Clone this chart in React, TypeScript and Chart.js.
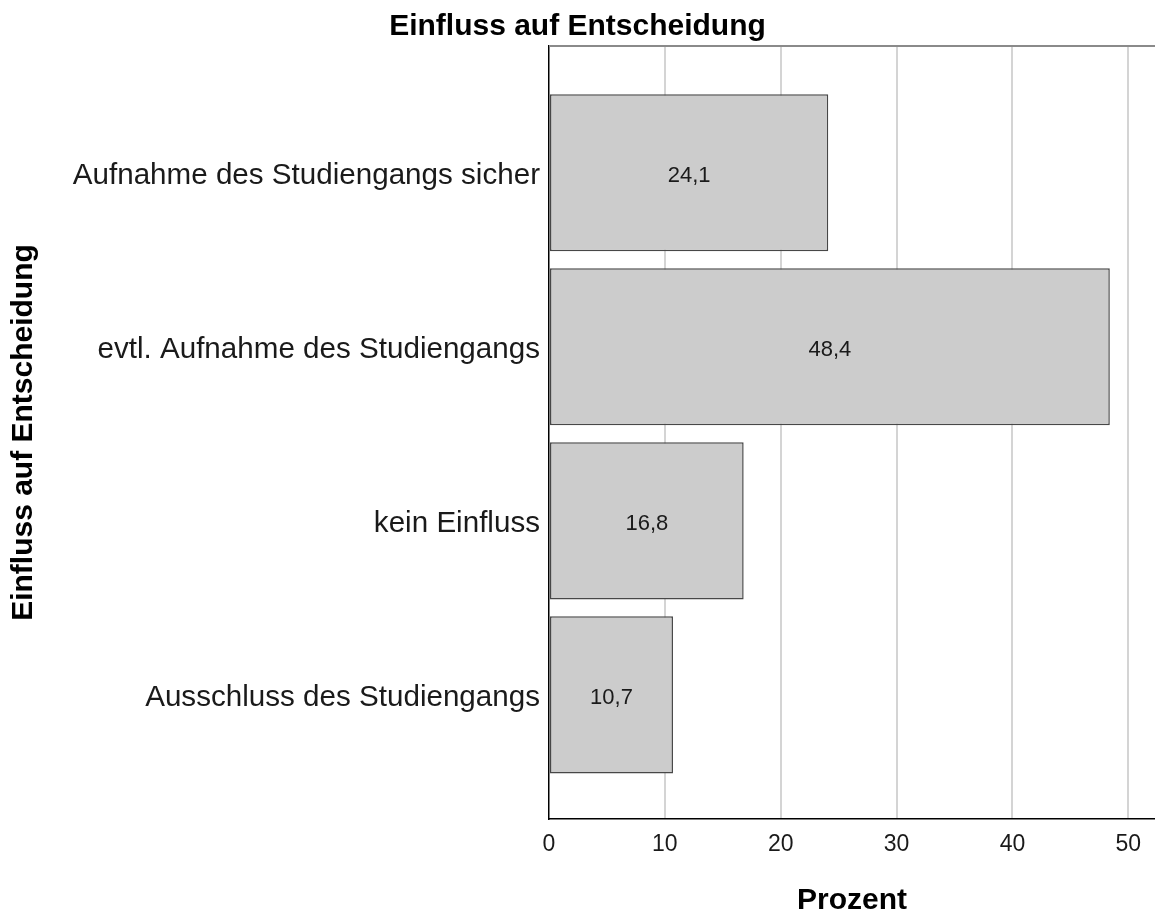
import React, { useEffect, useRef } from 'react';
import { Chart, registerables } from 'chart.js';

Chart.register(...registerables);

const chartTitle = 'Einfluss auf Entscheidung';
const xAxisTitle = 'Prozent';
const yAxisTitle = 'Einfluss auf Entscheidung';
const categories = [
  'Aufnahme des Studiengangs sicher',
  'evtl. Aufnahme des Studiengangs',
  'kein Einfluss',
  'Ausschluss des Studiengangs',
];
const percentValues = [24.1, 48.4, 16.8, 10.7];
const xTickValues = [0, 10, 20, 30, 40, 50];
const xMax = 52.3;
const yMin = -0.728;
const yMax = 3.713;

const FONT = "'Liberation Sans', Arial, Helvetica, sans-serif";

const topFramePlugin = {
  id: 'topFrame',
  beforeDatasetsDraw(chart: any) {
    const { ctx, chartArea } = chart;
    ctx.save();
    ctx.strokeStyle = '#8a8a8a';
    ctx.lineWidth = 2;
    ctx.beginPath();
    ctx.moveTo(chartArea.left, chartArea.top);
    ctx.lineTo(chartArea.right, chartArea.top);
    ctx.stroke();
    ctx.restore();
  },
};

const barLabelPlugin = {
  id: 'barLabels',
  afterDatasetsDraw(chart: any) {
    const { ctx } = chart;
    const meta = chart.getDatasetMeta(0);
    ctx.save();
    ctx.font = `22px ${FONT}`;
    ctx.fillStyle = '#1a1a1a';
    ctx.textAlign = 'center';
    ctx.textBaseline = 'middle';
    meta.data.forEach((bar: any, i: number) => {
      const v = percentValues[i];
      const cx = (bar.base + bar.x) / 2;
      ctx.fillText(v.toFixed(1).replace('.', ','), cx, bar.y + 3);
    });
    ctx.restore();
  },
};

export default function App() {
  const canvasRef = useRef<HTMLCanvasElement | null>(null);

  useEffect(() => {
    document.body.style.margin = '0';
    const canvas = canvasRef.current;
    if (!canvas) return;
    const chart = new Chart(canvas, {
      type: 'bar',
      data: {
        datasets: [
          {
            data: percentValues.map((v, i) => ({ x: v, y: i })),
            backgroundColor: '#cccccc',
            borderColor: '#474747',
            borderWidth: 1.5,
            borderSkipped: false,
            barPercentage: 0.903,
            categoryPercentage: 1,
          },
        ],
      },
      options: {
        indexAxis: 'y',
        responsive: false,
        animation: false,
        layout: { padding: 0 },
        plugins: {
          legend: { display: false },
          tooltip: { enabled: false },
          title: {
            display: true,
            text: chartTitle,
            color: '#000',
            font: { family: FONT, size: 30, weight: 'bold', lineHeight: 1.2 },
            padding: { top: 9, bottom: 1 },
          },
        },
        scales: {
          x: {
            type: 'linear',
            position: 'bottom',
            min: 0,
            max: xMax,
            afterBuildTicks: (scale: any) => {
              scale.ticks = xTickValues.map((v) => ({ value: v }));
            },
            afterFit: (scale: any) => {
              scale.height = 97;
            },
            grid: {
              display: true,
              drawTicks: false,
              lineWidth: 2,
              color: (ctx: any) => (ctx.tick && ctx.tick.value === 0 ? 'rgba(0,0,0,0)' : '#d4d4d4'),
            },
            border: { display: true, color: '#000', width: 1.5 },
            ticks: {
              padding: 12,
              color: '#1a1a1a',
              font: { family: FONT, size: 23 },
              maxRotation: 0,
              callback: (v: any) => String(v),
            },
            title: {
              display: true,
              text: xAxisTitle,
              color: '#000',
              font: { family: FONT, size: 30, weight: 'bold', lineHeight: 1.0 },
              padding: { top: 0, bottom: 0 },
            },
          },
          y: {
            type: 'linear',
            position: 'left',
            reverse: true,
            offset: false,
            min: yMin,
            max: yMax,
            afterBuildTicks: (scale: any) => {
              scale.ticks = categories.map((_, i) => ({ value: i }));
            },
            afterFit: (scale: any) => {
              scale.width = 549;
            },
            grid: { display: false, drawTicks: false, offset: false },
            border: { display: true, color: '#000', width: 1.5 },
            ticks: {
              padding: 9,
              color: '#1a1a1a',
              font: { family: FONT, size: 29.6 },
              labelOffset: 3,
              callback: (v: any) => categories[v] ?? '',
            },
            title: {
              display: true,
              text: yAxisTitle,
              color: '#000',
              font: { family: FONT, size: 30, weight: 'bold', lineHeight: 1.2 },
              padding: { top: 6, bottom: 0 },
            },
          },
        },
      },
      plugins: [topFramePlugin, barLabelPlugin],
    } as any);
    return () => chart.destroy();
  }, []);

  return (
    <div style={{ width: 1155, height: 916, background: '#fff' }}>
      <canvas ref={canvasRef} width={1155} height={916} style={{ display: 'block' }} />
    </div>
  );
}
